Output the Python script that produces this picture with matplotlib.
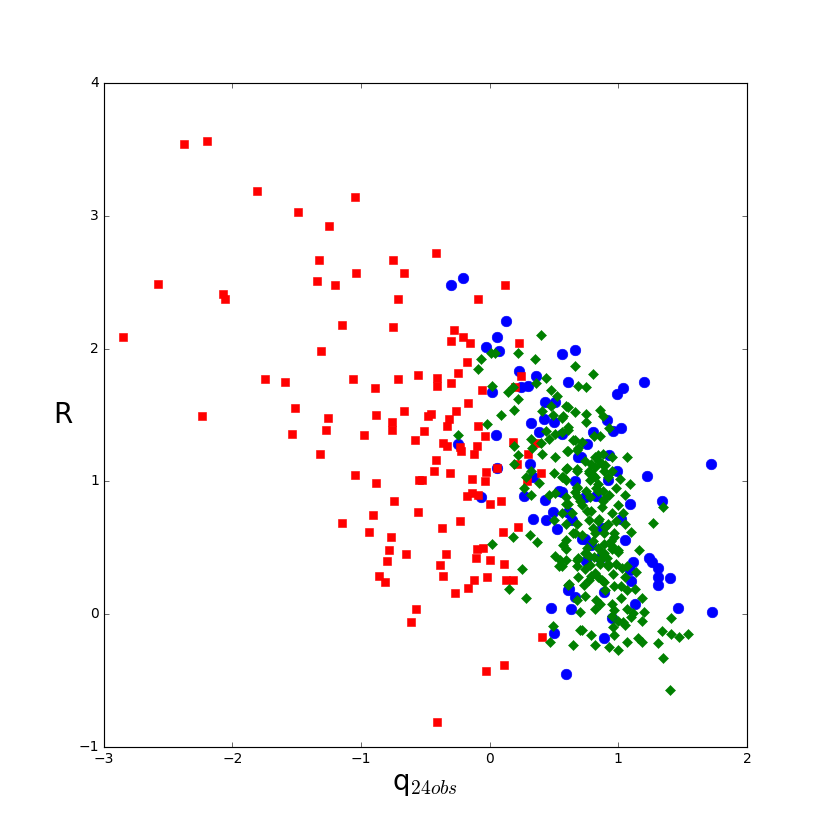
import matplotlib
matplotlib.use("Agg")
import matplotlib.pyplot as plt

plt.style.use("classic")

# Red squares
red_x = [-2.38, -2.20, -2.58, -2.85, -1.81, -1.49, -1.05, -1.25, -1.33, -1.34,
         -1.20, -1.04, -2.07, -2.06, -0.75, -0.67, -0.71, -1.15, -0.75, -1.31,
         -1.75, -1.59, -1.06, -0.89, -0.71, -0.56, -1.51, -2.24, -1.26, -0.88,
         -0.67, -0.76, -0.76, -1.54, -1.27, -0.98, -0.58, -1.32, -1.05, -0.88,
         -0.55, -0.74, -1.15, -0.91, -0.94, -0.77, -0.78, -0.65, -0.80, -0.86,
         -0.81, -0.56, -0.57, -0.61, -0.42, 0.12, -0.09, -0.28, -0.30, -0.21,
         -0.15, 0.23, -0.18, -0.25, -0.41, -0.41, -0.30, -0.06, 0.20, 0.24,
         -0.17, -0.48, -0.46, -0.26, -0.32, -0.33, -0.09, -0.51, -0.36, -0.33,
         -0.23, -0.22, -0.10, -0.12, -0.04, 0.18, 0.30, 0.36, -0.42, -0.43,
         -0.31, -0.53, -0.14, -0.04, -0.03, 0.06, 0.21, 0.29, 0.40, -0.18,
         -0.14, -0.09, 0.00, 0.09, -0.23, -0.37, 0.22, 0.10, -0.34, -0.39,
         -0.36, -0.10, -0.05, -0.11, 0.00, 0.11, -0.02, -0.12, -0.17, -0.27,
         0.13, 0.18, 0.41, 0.11, -0.03, -0.41]
red_y = [3.54, 3.56, 2.49, 2.09, 3.19, 3.03, 3.14, 2.92, 2.67, 2.51,
         2.48, 2.57, 2.41, 2.37, 2.67, 2.57, 2.37, 2.18, 2.16, 1.98,
         1.77, 1.75, 1.77, 1.70, 1.77, 1.80, 1.55, 1.49, 1.48, 1.50,
         1.53, 1.45, 1.39, 1.36, 1.39, 1.35, 1.31, 1.21, 1.05, 0.99,
         1.01, 0.85, 0.69, 0.75, 0.62, 0.58, 0.48, 0.45, 0.40, 0.29,
         0.24, 0.77, 0.04, -0.06, 2.72, 2.48, 2.37, 2.14, 2.06, 2.09,
         2.04, 2.04, 1.90, 1.82, 1.78, 1.72, 1.74, 1.69, 1.71, 1.79,
         1.59, 1.49, 1.51, 1.53, 1.47, 1.42, 1.42, 1.38, 1.29, 1.27,
         1.26, 1.23, 1.27, 1.21, 1.34, 1.30, 1.21, 1.29, 1.16, 1.08,
         1.06, 1.01, 1.02, 1.00, 1.07, 1.10, 1.13, 1.00, 1.06, 0.89,
         0.91, 0.90, 0.83, 0.85, 0.70, 0.65, 0.66, 0.62, 0.45, 0.37,
         0.29, 0.49, 0.50, 0.42, 0.41, 0.38, 0.28, 0.26, 0.20, 0.16,
         0.26, 0.26, -0.17, -0.38, -0.43, -0.81]

# Blue circles
blue_x = [-0.30, -0.21, 0.13, 0.06, -0.03, 0.07, 0.56, 0.66, 0.23, 0.36,
          0.61, 0.30, 0.24, 0.02, 0.43, 0.51, 0.32, 0.42, 0.38, 0.05,
          -0.25, 0.50, 0.31, 0.06, 0.69, 0.66, 0.34, 0.54, -0.07, 0.99,
          1.04, 1.20, 0.91, 1.02, 0.96, 0.80, 0.76, 0.71, 0.93, 0.99,
          1.22, 1.72, 0.92, 0.83, 0.74, 1.09, 1.34, 0.56, 0.61, 0.64,
          1.02, 0.87, 0.74, 0.79, 1.05, 1.11, 1.09, 1.24, 1.26, 1.31,
          1.31, 1.31, 1.40, 1.10, 0.75, 0.86, 0.61, 0.66, 0.89, 0.63,
          1.13, 1.46, 1.73, 0.95, 0.89, 0.59, 0.27, 0.43, 0.49, 0.34,
          0.44, 0.52, 0.62, 0.72, 0.62, 0.48, 0.50, 0.56]
blue_y = [2.48, 2.53, 2.21, 2.09, 2.01, 1.98, 1.96, 1.99, 1.83, 1.79,
          1.75, 1.72, 1.71, 1.67, 1.60, 1.60, 1.44, 1.47, 1.37, 1.35,
          1.28, 1.45, 1.13, 1.10, 1.18, 1.00, 1.03, 0.93, 0.88, 1.66,
          1.70, 1.75, 1.46, 1.40, 1.38, 1.37, 1.28, 1.18, 1.20, 1.08,
          1.04, 1.13, 1.01, 0.89, 0.88, 0.83, 0.85, 0.92, 0.77, 0.71,
          0.72, 0.65, 0.57, 0.52, 0.56, 0.39, 0.33, 0.42, 0.39, 0.35,
          0.28, 0.22, 0.27, 0.25, 0.40, 0.42, 0.18, 0.13, 0.17, 0.04,
          0.08, 0.05, 0.02, -0.03, -0.18, -0.45, 0.89, 0.86, 0.77, 0.72,
          0.71, 0.64, 0.76, 0.57, 0.19, 0.05, -0.14, 1.36]

# Green diamonds
green_x = [0.40, 0.22, 0.35, 0.66, -0.07, -0.09, 0.01, 0.04, 0.44, 0.36,
           0.69, 0.02, 0.14, 0.18, 0.22, 0.48, 0.52, 0.48, 0.59, 0.61,
           0.41, 0.19, 0.66, 0.09, 0.56, 0.49, -0.02, -0.25, 0.44, 0.51,
           0.56, 0.61, 0.66, 0.32, 0.46, 0.40, 0.19, 0.22, 0.19, 0.33,
           0.41, 0.51, 0.61, 0.69, 0.32, 0.28, 0.38, 0.50, 0.59, 0.56,
           0.68, 0.27, 0.32, 0.46, 0.51, 0.59, 0.68, 0.68, 0.80, 0.75,
           0.75, 0.75, 0.86, 0.88, 0.93, 0.81, 0.86, 0.61, 0.57, 0.65,
           0.72, 0.68, 0.60, 0.82, 0.88, 0.95, 1.07, 0.60, 0.68, 0.77,
           0.82, 0.87, 0.89, 0.78, 0.84, 0.92, 1.01, 1.09, 0.68, 0.75,
           0.88, 0.57, 1.05, 0.89, 1.35, 1.27, 1.00, 1.04, 1.10, 1.16,
           1.05, 0.97, 0.95, 1.00, 0.89, 0.87, 0.86, 0.92, 0.77, 0.69,
           0.68, 0.59, 0.56, 0.74, 0.79, 0.84, 0.89, 1.14, 1.05, 1.02,
           1.07, 0.97, 1.13, 1.18, 0.61, 0.68, 0.74, 0.83, 0.82, 0.70,
           0.95, 0.97, 0.95, 1.07, 1.11, 1.20, 1.18, 1.10, 1.04, 1.00,
           1.05, 0.96, 1.41, 0.72, 0.79, 0.97, 1.34, 1.41, 1.47, 1.54,
           0.65, 0.82, 0.93, 1.00, 1.07, 1.15, 1.18, 1.31, 1.35, 1.40,
           0.59, 0.56, 0.50, 0.59, 0.68, 0.65, 0.59, 0.57, 0.59, 0.31,
           0.37, 0.18, 0.02, 0.51, 0.55, 0.54, 0.68, 0.69, 0.25, 0.15,
           0.28, 0.62, 0.49, 0.47, 0.70, 0.61, 0.72, 0.79, 0.87, 0.95,
           0.77, 0.84, 0.92, 0.82, 0.89, 0.97, 0.95, 1.00, 0.89, 0.81,
           0.86, 0.92, 0.82, 0.87, 0.77, 0.98, 1.07, 0.64, 0.66, 0.74,
           0.84, 0.79, 0.77, 0.82, 0.84, 0.59,
           0.80, 0.85, 0.90, 0.83, 0.78, 0.88, 0.93, 0.76, 0.80, 0.85,
           0.90, 0.94, 0.80, 0.76, 0.84, 0.91, 0.78, 0.96, 0.90, 0.73,
           0.86, 1.02, 0.98, 0.72, 0.70, 0.95, 0.74, 0.66, 0.98, 1.03]
green_y = [2.10, 1.97, 1.92, 1.87, 1.92, 1.85, 1.97, 1.97, 1.78, 1.74,
           1.72, 1.72, 1.67, 1.71, 1.62, 1.69, 1.64, 1.57, 1.57, 1.56,
           1.53, 1.54, 1.52, 1.50, 1.48, 1.50, 1.43, 1.35, 1.38, 1.36,
           1.37, 1.39, 1.31, 1.32, 1.32, 1.29, 1.27, 1.20, 1.13, 1.25,
           1.21, 1.18, 1.23, 1.25, 1.08, 1.03, 0.99, 1.06, 1.09, 1.03,
           1.08, 0.95, 0.90, 0.90, 0.91, 0.88, 0.95, 0.89, 1.81, 1.71,
           1.51, 1.45, 1.54, 1.49, 1.40, 1.34, 1.34, 1.41, 1.49, 1.31,
           1.30, 1.24, 1.23, 1.18, 1.21, 1.18, 1.18, 1.10, 1.09, 1.08,
           1.11, 1.13, 1.08, 1.01, 0.98, 1.03, 1.02, 0.98, 0.96, 0.93,
           0.93, 1.03, 0.90, 0.87, 0.81, 0.69, 0.82, 0.76, 0.62, 0.48,
           0.68, 0.61, 0.49, 0.47, 0.53, 0.46, 0.41, 0.38, 0.44, 0.42,
           0.36, 0.41, 0.36, 0.34, 0.29, 0.28, 0.24, 0.32, 0.28, 0.21,
           0.18, 0.21, 0.19, 0.12, 0.22, 0.11, 0.14, 0.11, 0.04, 0.02,
           0.08, 0.03, -0.01, 0.04, 0.01, 0.02, -0.05, -0.02, -0.06, -0.05,
           -0.08, -0.10, -0.03, -0.12, -0.16, -0.16, -0.13, -0.15, -0.17, -0.15,
           -0.23, -0.23, -0.25, -0.27, -0.21, -0.18, -0.21, -0.22, -0.33, -0.57,
           0.83, 0.76, 0.71, 0.68, 0.68, 0.61, 0.56, 0.52, 0.49, 0.60,
           0.54, 0.58, 0.53, 0.44, 0.41, 0.36, 0.41, 0.28, 0.34, 0.19,
           0.12, 0.23, -0.09, -0.21, -0.12, 0.83, 0.82, 0.78, 0.81, 0.76,
           0.71, 0.70, 0.68, 0.61, 0.61, 0.58, 0.51, 0.48, 0.46, 0.43,
           0.38, 0.36, 0.31, 0.26, 0.26, 0.38, 0.36, 0.76, 0.61, 0.46,
           1.20, 1.13, 1.06, 1.03, 0.93, 1.01,
           1.05, 1.15, 1.12, 0.95, 0.88, 0.85, 0.90, 0.78, 0.65, 0.72,
           0.66, 0.55, 0.55, 0.50, 0.50, 0.42, 0.37, 0.30, 0.18, 0.22,
           0.08, 0.12, 0.95, 0.60, 0.85, 1.08, 1.15, 0.92, 0.70, 0.35]

xlim = (-3, 2)
ylim = (-1, 4)
xticks = [-3, -2, -1, 0, 1, 2]
yticks = [-1, 0, 1, 2, 3, 4]

fig = plt.figure(figsize=(10, 10), dpi=83, facecolor="white")
ax = fig.add_axes([0.125, 0.1, 0.775, 0.8])

ax.plot(blue_x, blue_y, linestyle="none", marker="o", color="blue",
        markersize=9.2, markeredgecolor="blue", markeredgewidth=0.5)
ax.plot(red_x, red_y, linestyle="none", marker="s", color="red",
        markersize=6.4, markeredgecolor="red", markeredgewidth=0.5)
ax.plot(green_x, green_y, linestyle="none", marker="D", color="green",
        markersize=5.9, markeredgecolor="green", markeredgewidth=0.5)

ax.set_xlim(*xlim)
ax.set_ylim(*ylim)
ax.set_xticks(xticks)
ax.set_yticks(yticks)
ax.tick_params(labelsize=12)

ax.set_xlabel(r"q$_{24obs}$", fontsize=24)
ax.xaxis.set_label_coords(0.5, -0.055)
ax.xaxis.label.set_va("center")
ax.set_ylabel("R", fontsize=24, rotation=0)
ax.yaxis.set_label_coords(-0.064, 0.5)
ax.yaxis.label.set_va("center")
ax.yaxis.label.set_ha("center")

fig.savefig("out.png", dpi=83, facecolor="white")
